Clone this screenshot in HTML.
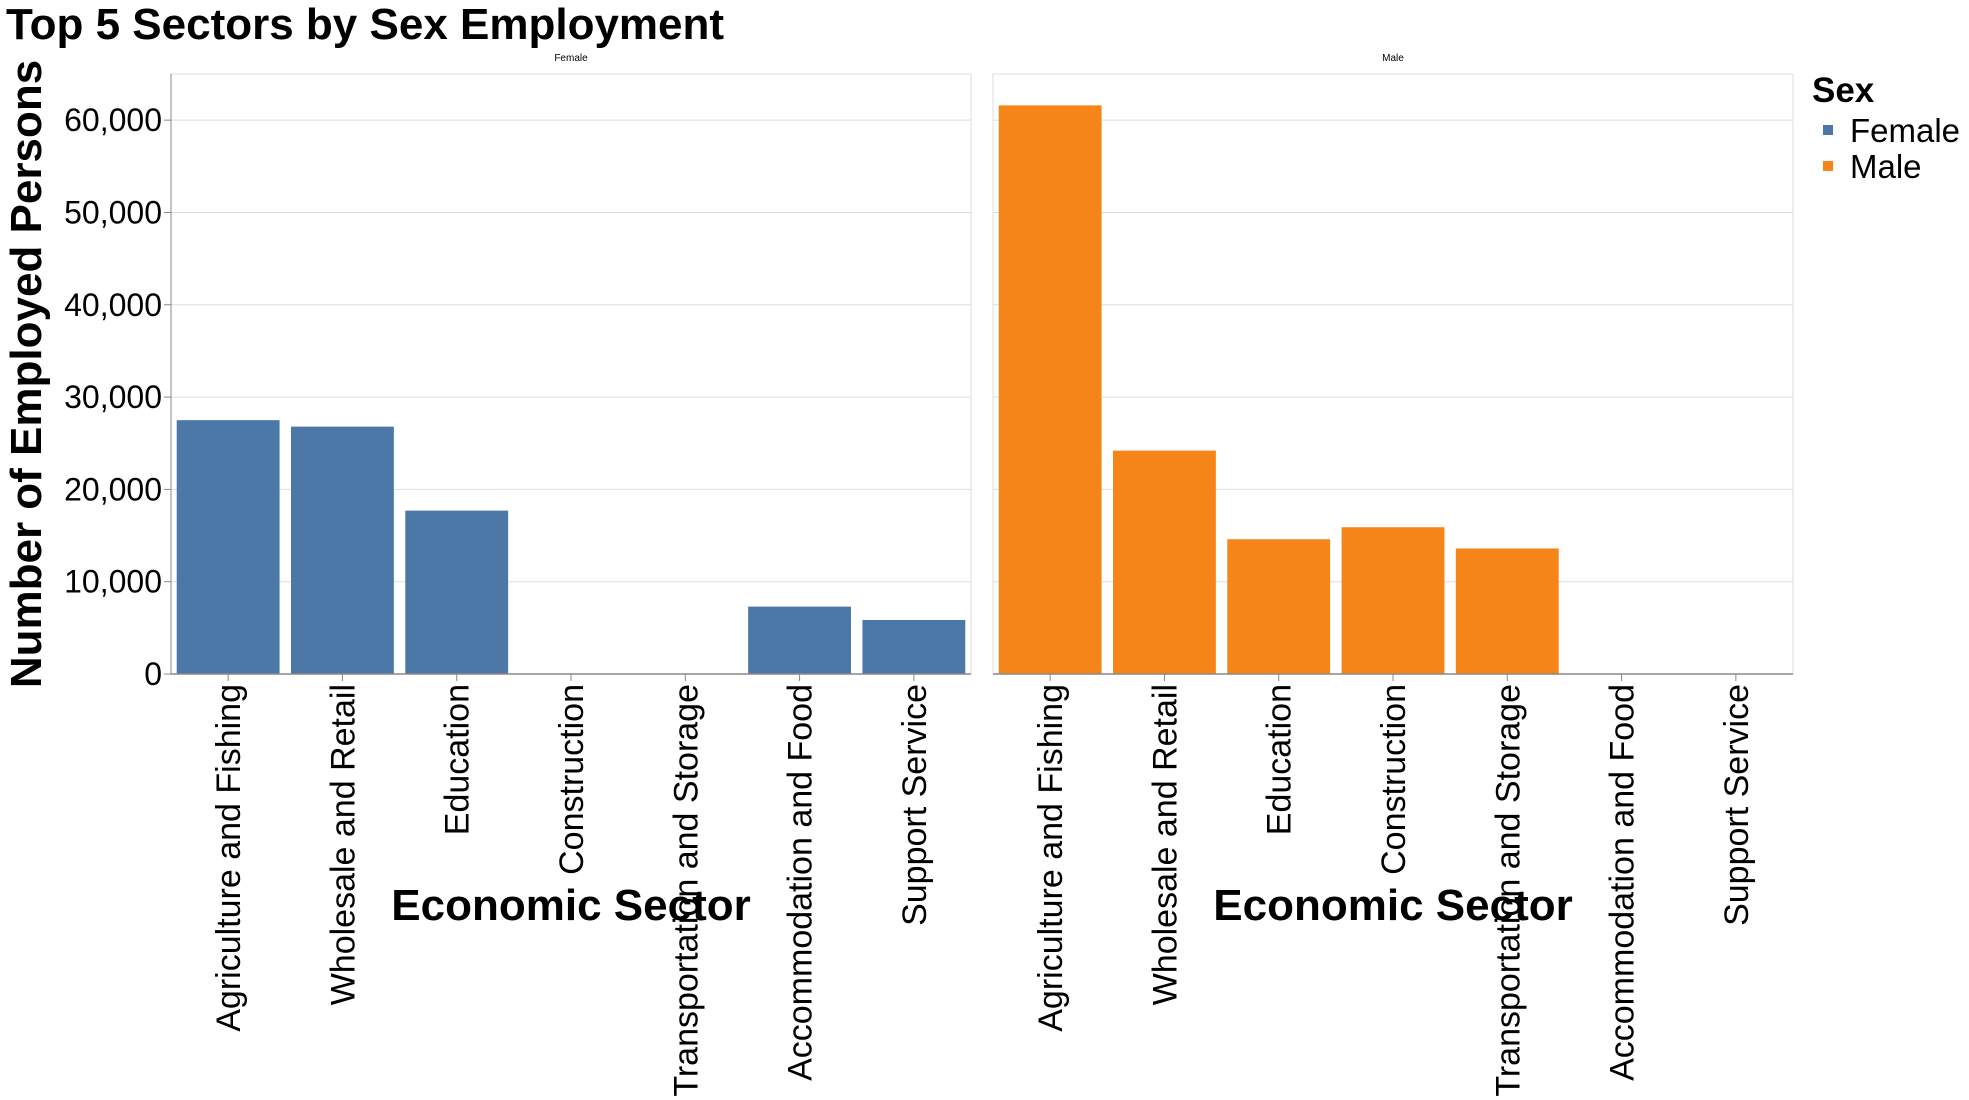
<!DOCTYPE html>
<html><head><meta charset="utf-8"><style>
html,body{margin:0;padding:0;background:#fff}
svg{display:block;font-family:"Liberation Sans",Arial,sans-serif}
</style></head><body>
<svg id="chart" width="1969" height="1100" viewBox="0 0 1969 1100">
<text x="6" y="39" font-size="44" font-weight="bold" fill="#000">Top 5 Sectors by Sex Employment</text>
<text transform="translate(41,374) rotate(-90)" text-anchor="middle" font-size="44" font-weight="bold" fill="#000">Number of Employed Persons</text>
<g id="panels"></g>
<g>
<text x="1812" y="102" font-size="35" font-weight="bold">Sex</text>
<rect x="1823" y="125" width="10" height="10" fill="#4c78a8"/>
<text x="1850" y="142" font-size="33">Female</text>
<rect x="1823" y="161" width="10" height="10" fill="#f58518"/>
<text x="1850" y="178" font-size="33">Male</text>
</g>
</svg>
<script>
const categories = ["Agriculture and Fishing","Wholesale and Retail","Education","Construction","Transportation and Storage","Accommodation and Food","Support Service"];
const panelNames = ["Female","Male"];
const femaleValues = [27500, 26800, 17700, null, null, 7300, 5850];
const maleValues = [61600, 24200, 14600, 15900, 13600, null, null];
const yTicks = [0,10000,20000,30000,40000,50000,60000];
const tickLabels = ["0","10,000","20,000","30,000","40,000","50,000","60,000"];
const seriesValues = [femaleValues, maleValues];
const colors = ["#4c78a8","#f58518"];
const NS="http://www.w3.org/2000/svg";
const plotTop=74, plotBottom=674, yMax=65000, panelW=800;
const panelX=[171,993];
function yScale(v){return plotBottom-(v/yMax)*(plotBottom-plotTop);}
function mk(tag,attrs,parent){const e=document.createElementNS(NS,tag);for(const k in attrs)e.setAttribute(k,attrs[k]);parent.appendChild(e);return e;}
const root=document.getElementById('panels');
panelNames.forEach((pn,pi)=>{
  const x0=panelX[pi];
  const step=panelW/categories.length;
  const g=mk('g',{},root);
  
  
  const frame=mk('rect',{x:x0,y:plotTop,width:panelW,height:plotBottom-plotTop,fill:'none',stroke:'#ddd','stroke-width':1},g);
  
  
  const hdr=mk('text',{x:x0+panelW/2,y:61,'text-anchor':'middle','font-size':10},g);
  hdr.textContent=pn;
  
  
  yTicks.forEach((t)=>{
    if(t>0){const gl=mk('line',{x1:x0,x2:x0+panelW,y1:yScale(t),y2:yScale(t),stroke:'#ddd','stroke-width':1},g);
    
    }
  });
  if(pi===0){
    const ax=mk('line',{x1:x0,x2:x0,y1:plotTop,y2:plotBottom,stroke:'#888','stroke-width':1},g);
    
    
    yTicks.forEach((t,i)=>{
      const tk=mk('line',{x1:x0-7,x2:x0,y1:yScale(t),y2:yScale(t),stroke:'#888'},g);
      
      
      const lb=mk('text',{x:x0-9,y:yScale(t)+11,'text-anchor':'end','font-size':32},g);
      lb.textContent=tickLabels[i];
      
      
    });
  }
  categories.forEach((c,ci)=>{
    const v=seriesValues[pi][ci];
    const cx=x0+step*ci+step/2;
    if(v!=null){
      const bw=step*0.9;
      const r=mk('rect',{x:cx-bw/2,y:yScale(v),width:bw,height:plotBottom-yScale(v),fill:colors[pi]},g);
      
      
    }
    const tk=mk('line',{x1:cx,x2:cx,y1:plotBottom,y2:plotBottom+7,stroke:'#888'},g);
    
    
    const lb=mk('text',{transform:`translate(${cx+12},${plotBottom+10}) rotate(-90)`,'text-anchor':'end','font-size':34},g);
    lb.textContent=c;
    
    
  });
  const xa=mk('line',{x1:x0,x2:x0+panelW,y1:plotBottom,y2:plotBottom,stroke:'#888','stroke-width':1.5},g);
  
  
  const xt=mk('text',{x:x0+panelW/2,y:920,'text-anchor':'middle','font-size':44,'font-weight':'bold'},g);
  xt.textContent='Economic Sector';
  
  
});
</script>
</body></html>
